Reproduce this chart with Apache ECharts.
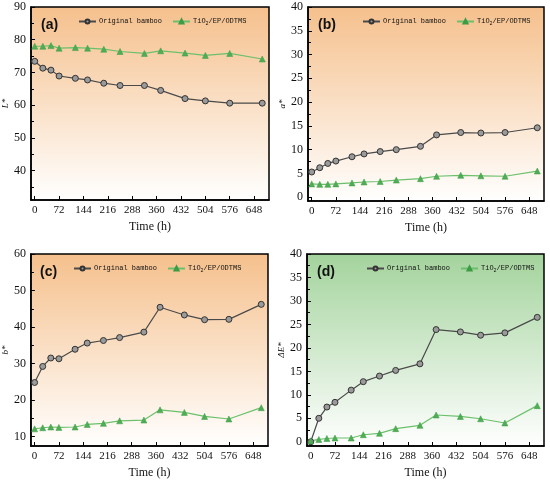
<!DOCTYPE html>
<html>
<head>
<meta charset="utf-8">
<script src="https://cdn.jsdelivr.net/npm/echarts@6/dist/echarts.min.js"></script>
<style>
  html, body { margin: 0; padding: 0; background: #fff; }
  #chart { width: 550px; height: 480px; }
</style>
</head>
<body>
<div id="chart"></div>
<script>
// weathering time (h)
var hours = [0, 24, 48, 72, 120, 156, 204, 252, 324, 372, 444, 504, 576, 672];
var xTicks = [0, 72, 144, 216, 288, 360, 432, 504, 576, 648];

var lOrig = [73.4, 71.3, 70.7, 68.9, 68.2, 67.7, 66.7, 66.0, 66.0, 64.5, 62.0, 61.3, 60.6, 60.6];
var lTio2 = [78.0, 78.0, 78.2, 77.4, 77.6, 77.4, 77.1, 76.4, 75.8, 76.6, 75.9, 75.2, 75.8, 74.1];

var aOrig = [5.3, 6.2, 7.1, 7.6, 8.5, 9.1, 9.6, 10.0, 10.7, 13.1, 13.6, 13.5, 13.6, 14.6];
var aTio2 = [2.8, 2.7, 2.7, 2.8, 3.0, 3.2, 3.3, 3.6, 3.9, 4.4, 4.6, 4.5, 4.4, 5.5];

var bOrig = [24.8, 29.2, 31.5, 31.3, 33.9, 35.6, 36.3, 37.1, 38.6, 45.4, 43.3, 42.0, 42.1, 46.2];
var bTio2 = [12.1, 12.4, 12.6, 12.5, 12.6, 13.3, 13.6, 14.3, 14.5, 17.3, 16.6, 15.5, 14.8, 17.9];

var eOrig = [0.0, 5.0, 7.4, 8.4, 11.0, 12.8, 14.0, 15.2, 16.6, 23.9, 23.4, 22.7, 23.2, 26.5];
var eTio2 = [0.2, 0.5, 0.7, 0.8, 0.8, 1.5, 1.8, 2.8, 3.5, 5.7, 5.4, 4.9, 4.0, 7.7];

var lTicks = [40, 50, 60, 70, 80, 90];
var lMinor = [35, 45, 55, 65, 75, 85];
var aTicks = [0, 5, 10, 15, 20, 25, 30, 35, 40];
var aMinor = [2.5, 7.5, 12.5, 17.5, 22.5, 27.5, 32.5, 37.5];
var bTicks = [10, 20, 30, 40, 50, 60];
var bMinor = [15, 25, 35, 45, 55];
var eTicks = [0, 5, 10, 15, 20, 25, 30, 35, 40];
var eMinor = [2.5, 7.5, 12.5, 17.5, 22.5, 27.5, 32.5, 37.5];

var panels = [
  { tag: '(a)', name: 'L*',  orig: lOrig, tio2: lTio2, min: 31,   max: 90, ticks: lTicks, minor: lMinor, bg: 'o',
    grid: { left: 31,  top: 7,   width: 238, height: 193 }, leg: { left: 73,  top: 13 } },
  { tag: '(b)', name: 'a*',  orig: aOrig, tio2: aTio2, min: -0.8, max: 40, ticks: aTicks, minor: aMinor, bg: 'o',
    grid: { left: 308, top: 7,   width: 236, height: 194 }, leg: { left: 357, top: 13 } },
  { tag: '(c)', name: 'b*',  orig: bOrig, tio2: bTio2, min: 7.4,  max: 60, ticks: bTicks, minor: bMinor, bg: 'o',
    grid: { left: 30,  top: 254, width: 238, height: 194 }, leg: { left: 68,  top: 260 } },
  { tag: '(d)', name: 'ΔE*', orig: eOrig, tio2: eTio2, min: -0.9, max: 40, ticks: eTicks, minor: eMinor, bg: 'g',
    grid: { left: 307, top: 254, width: 237, height: 194 }, leg: { left: 361, top: 260 } }
];

var ORIG = 'Original bamboo';
var TIO2 = 'TiO2/EP/ODTMS';
var serif = 'Liberation Serif';

function pairs(ys) {
  return hours.map(function (h, i) { return [h, ys[i]]; });
}

function bgFill(kind) {
  var top = kind === 'g' ? '#a3d39c' : '#f5c08c';
  return {
    type: 'linear', x: 0, y: 0, x2: 0, y2: 1,
    colorStops: [{ offset: 0, color: top }, { offset: 1, color: '#ffffff' }]
  };
}

var option = { animation: false, grid: [], xAxis: [], yAxis: [], series: [], legend: [], title: [] };

panels.forEach(function (p, i) {
  option.grid.push({
    left: p.grid.left, top: p.grid.top, width: p.grid.width, height: p.grid.height,
    show: true, backgroundColor: bgFill(p.bg), borderColor: '#000', borderWidth: 1.5
  });
  option.xAxis.push({
    type: 'value', gridIndex: i, min: -11, max: 692,
    name: 'Time (h)', nameLocation: 'middle', nameGap: 21,
    nameTextStyle: { fontFamily: serif, fontSize: 12, color: '#111' },
    axisLine: { show: true, onZero: false, lineStyle: { color: '#000', width: 1.5 } },
    axisTick: { show: true, inside: true, length: 4, customValues: xTicks, lineStyle: { color: '#000' } },
    axisLabel: { customValues: xTicks, fontFamily: serif, fontSize: 11, color: '#111', margin: 5 },
    splitLine: { show: false }
  });
  option.yAxis.push({
    type: 'value', gridIndex: i, min: p.min, max: p.max,
    name: p.name, nameLocation: 'middle', nameGap: 16, nameRotate: 90,
    nameTextStyle: { fontFamily: serif, fontStyle: 'italic', fontSize: 9, color: '#111' },
    axisLine: { show: true, onZero: false, lineStyle: { color: '#000', width: 1.5 } },
    axisTick: { show: true, inside: true, length: 4, customValues: p.ticks, lineStyle: { color: '#000' } },
    axisLabel: { customValues: p.ticks, fontFamily: serif, fontSize: 12, color: '#111', margin: 5 },
    splitLine: { show: false }
  });
  option.series.push({
    name: ORIG, type: 'line', xAxisIndex: i, yAxisIndex: i, data: pairs(p.orig),
    symbol: 'circle', symbolSize: 6,
    lineStyle: { color: '#4a4a4a', width: 1.2 },
    itemStyle: { color: '#9a9a9a', borderColor: '#333', borderWidth: 1 }
  });
  option.series.push({
    name: TIO2, type: 'line', xAxisIndex: i, yAxisIndex: i, data: pairs(p.tio2),
    symbol: 'triangle', symbolSize: 6,
    lineStyle: { color: '#6cc06c', width: 1.2 },
    itemStyle: { color: '#4fae55', borderColor: '#3d9a45', borderWidth: 0.5 }
  });
  option.legend.push({
    data: [ORIG, TIO2], left: p.leg.left, top: p.leg.top, width: 240,
    itemWidth: 17, itemHeight: 5, itemGap: 10, selectedMode: false,
    textStyle: {
      fontFamily: 'Liberation Mono', fontSize: 7, color: '#111', padding: [0, 0, 0, -2],
      rich: { s: { fontFamily: 'Liberation Mono', fontSize: 5, verticalAlign: 'bottom', padding: [4, 0, 0, 0] } }
    },
    formatter: function (n) { return n === TIO2 ? 'TiO{s|2}/EP/ODTMS' : n; }
  });
  option.title.push({
    text: p.tag, left: p.grid.left + 5, top: p.grid.top + 6,
    textStyle: { fontFamily: 'Liberation Sans', fontWeight: 'bold', fontSize: 14, color: '#111' }
  });
});

// overlay axes carrying only the short minor ticks on the y axes
panels.forEach(function (p, i) {
  option.yAxis.push({
    type: 'value', gridIndex: i, min: p.min, max: p.max, position: 'left', offset: 0,
    axisLine: { show: false, onZero: false },
    axisTick: { show: true, inside: true, length: 3, customValues: p.minor, lineStyle: { color: '#000', width: 1 } },
    axisLabel: { show: false },
    splitLine: { show: false }
  });
});

var chart = echarts.init(document.getElementById('chart'), null, { renderer: 'canvas' });
chart.setOption(option);
</script>
</body>
</html>
